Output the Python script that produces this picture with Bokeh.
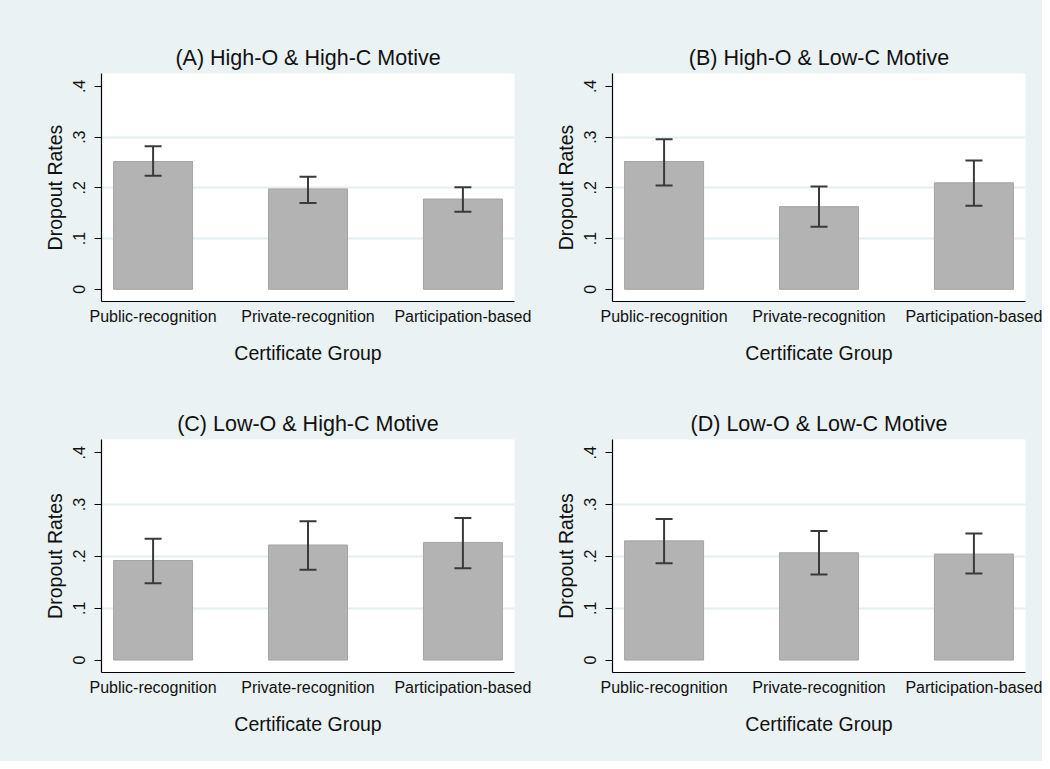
from bokeh.plotting import figure
from bokeh.models import Range1d, FixedTicker, Whisker, TeeHead, ColumnDataSource
from bokeh.layouts import column, row
from bokeh.embed import file_html
from bokeh.resources import INLINE

# ---------------- data ----------------
categories = ["Public-recognition", "Private-recognition", "Participation-based"]
x_pos = [1, 2, 3]
y_ticks = [0, 0.1, 0.2, 0.3, 0.4]
y_tick_labels = ["0", ".1", ".2", ".3", ".4"]
grid_ticks = [0.1, 0.2, 0.3]

titles = ["(A) High-O & High-C Motive", "(B) High-O & Low-C Motive",
          "(C) Low-O & High-C Motive", "(D) Low-O & Low-C Motive"]

mean_A = [0.252, 0.198, 0.178]
low_A = [0.224, 0.170, 0.153]
up_A = [0.282, 0.222, 0.201]

mean_B = [0.252, 0.163, 0.210]
low_B = [0.2045, 0.1235, 0.165]
up_B = [0.296, 0.2026, 0.254]

mean_C = [0.192, 0.222, 0.227]
low_C = [0.148, 0.174, 0.177]
up_C = [0.234, 0.268, 0.274]

mean_D = [0.230, 0.207, 0.2045]
low_D = [0.187, 0.165, 0.167]
up_D = [0.272, 0.249, 0.244]

x_label = "Certificate Group"
y_label = "Dropout Rates"

# ---------------- style ----------------
BG = "#EAF2F3"
FONT = "Liberation Sans"
TXT = "#111111"
BAR = "#B3B3B3"
BAR_LINE = "#A4A4A4"
ERR = "#3A3A3A"


def make_panel(title, means, lows, ups, width, height, left, right, top, bottom):
    p = figure(width=width, height=height,
               x_range=Range1d(0.667, 3.333), y_range=Range1d(-0.024, 0.4255),
               output_backend="svg", toolbar_location=None,
               min_border_left=left, min_border_right=right,
               min_border_top=top, min_border_bottom=bottom,
               styles={"background-color": BG})
    p.background_fill_color = "white"
    p.border_fill_color = BG
    p.outline_line_color = None

    src = ColumnDataSource(dict(x=x_pos, top=means, lower=lows, upper=ups))
    p.vbar(x="x", top="top", bottom=0, width=0.51, source=src,
           fill_color=BAR, line_color=BAR_LINE, line_width=1)
    w = Whisker(base="x", upper="upper", lower="lower", source=src,
                line_color=ERR, line_width=2,
                upper_head=TeeHead(size=17, line_color=ERR, line_width=2),
                lower_head=TeeHead(size=17, line_color=ERR, line_width=2))
    w.level = "annotation"
    p.add_layout(w)

    # title
    p.title.text = title
    p.title.align = "center"
    p.title.text_font = FONT
    p.title.text_font_size = "21.5px"
    p.title.text_font_style = "normal"
    p.title.text_color = TXT
    p.title.standoff = 7

    # grids
    p.xgrid.visible = False
    p.ygrid.ticker = FixedTicker(ticks=grid_ticks)
    p.ygrid.grid_line_color = "#E4EEF0"
    p.ygrid.grid_line_width = 2

    # x axis
    xa = p.xaxis[0]
    xa.ticker = FixedTicker(ticks=x_pos)
    xa.major_label_overrides = {xp: c for xp, c in zip(x_pos, categories)}
    xa.major_tick_out = 0
    xa.major_tick_in = 0
    xa.minor_tick_out = 0
    xa.minor_tick_in = 0
    xa.axis_line_color = "black"
    xa.axis_line_width = 1.2
    xa.major_label_text_font = FONT
    xa.major_label_text_font_size = "16px"
    xa.major_label_text_color = TXT
    xa.major_label_standoff = 6
    xa.axis_label = x_label
    xa.axis_label_text_font = FONT
    xa.axis_label_text_font_size = "19.5px"
    xa.axis_label_text_font_style = "normal"
    xa.axis_label_text_color = TXT
    xa.axis_label_standoff = 14

    # y axis
    ya = p.yaxis[0]
    ya.ticker = FixedTicker(ticks=y_ticks)
    ya.major_label_overrides = {t: l for t, l in zip(y_ticks, y_tick_labels)}
    ya.major_label_orientation = "vertical"
    ya.major_tick_out = 7
    ya.major_tick_in = 0
    ya.minor_tick_out = 0
    ya.minor_tick_in = 0
    ya.major_tick_line_color = "black"
    ya.axis_line_color = "black"
    ya.axis_line_width = 1.2
    ya.major_label_text_font = FONT
    ya.major_label_text_font_size = "16px"
    ya.major_label_text_color = TXT
    ya.major_label_standoff = 9
    ya.axis_label = y_label
    ya.axis_label_text_font = FONT
    ya.axis_label_text_font_size = "19.5px"
    ya.axis_label_text_font_style = "normal"
    ya.axis_label_text_color = TXT
    ya.axis_label_standoff = 5
    return p


pA = make_panel(titles[0], mean_A, low_A, up_A, 545, 366, 101, 31, 73, 60)
pB = make_panel(titles[1], mean_B, low_B, up_B, 497, 366, 67, 17, 73, 60)
pC = make_panel(titles[2], mean_C, low_C, up_C, 545, 395, 101, 31, 73, 89)
pD = make_panel(titles[3], mean_D, low_D, up_D, 497, 395, 67, 17, 73, 89)

layout = column(row(pA, pB, styles={"background-color": BG}),
                row(pC, pD, styles={"background-color": BG}),
                styles={"background-color": BG})
open("out.html", "w").write(file_html(layout, INLINE))
